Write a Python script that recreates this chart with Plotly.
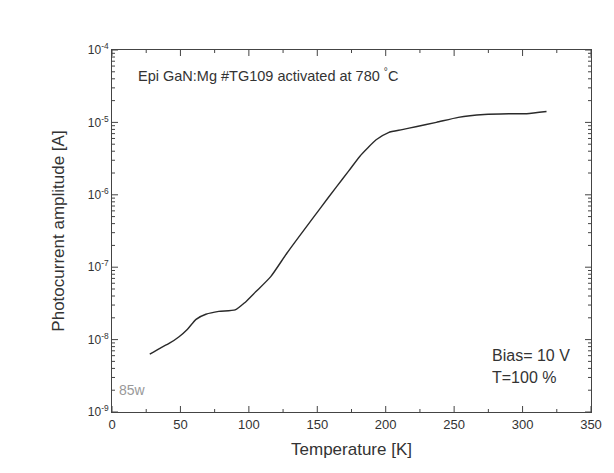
import plotly.graph_objects as go

temperature = [27.6, 35, 42, 49, 55, 61.4, 68.6, 78, 90, 97, 105, 116, 128, 140.5, 152, 164, 173, 181, 187, 193, 202, 212, 222, 237, 253, 272, 290, 303, 317.5]
log_current = [-8.20, -8.12, -8.05, -7.96, -7.86, -7.72, -7.65, -7.61, -7.59, -7.49, -7.34, -7.13, -6.80, -6.48, -6.19, -5.89, -5.67, -5.47, -5.35, -5.24, -5.14, -5.10, -5.06, -5.00, -4.93, -4.89, -4.88, -4.88, -4.85]
current = [10 ** v for v in log_current]

y_tickvals = [1e-9, 1e-8, 1e-7, 1e-6, 1e-5, 1e-4]
y_ticktext = ["10<sup>-9</sup>", "10<sup>-8</sup>", "10<sup>-7</sup>", "10<sup>-6</sup>", "10<sup>-5</sup>", "10<sup>-4</sup>"]
y_minor_tickvals = [m * 10 ** e for e in range(-9, -4) for m in range(2, 10)]
x_tickvals = [0, 50, 100, 150, 200, 250, 300, 350]
x_minor_tickvals = [25, 75, 125, 175, 225, 275, 325]

FONT = "Liberation Sans, Arial, sans-serif"
AX = "#444444"
TXT = "#333333"
X_RANGE = [0, 350]
Y_RANGE = [-9, -4]
MAJOR_LEN = 6
MINOR_LEN = 3

fig = go.Figure()
fig.add_trace(go.Scatter(x=temperature, y=current, mode="lines",
                         line=dict(color="#2a2a2a", width=1.4, shape="spline", smoothing=0.6),
                         showlegend=False))

fig.update_layout(
    width=614, height=473,
    margin=dict(l=112, r=16, t=50, b=61),
    paper_bgcolor="white", plot_bgcolor="white",
    font=dict(family=FONT, color=TXT, size=12),
    xaxis=dict(range=X_RANGE, tickmode="array", tickvals=x_tickvals, ticks="",
               showline=True, linecolor=AX, linewidth=1, mirror=True,
               showgrid=False, zeroline=False,
               tickfont=dict(size=13, color=TXT),
               title=dict(text="Temperature [K]", font=dict(size=17, color=TXT), standoff=12)),
    yaxis=dict(type="log", range=Y_RANGE, tickmode="array", tickvals=y_tickvals, ticktext=y_ticktext,
               ticks="", showline=True, linecolor=AX, linewidth=1, mirror=True,
               showgrid=False, zeroline=False,
               tickfont=dict(size=12, color=TXT),
               title=dict(text="Photocurrent amplitude [A]", font=dict(size=17, color=TXT), standoff=18)),
)

# inward tick marks on all four sides, placed by the axes' own scales
tick_line = dict(color=AX, width=1)
for vals, length in ((x_tickvals, MAJOR_LEN), (x_minor_tickvals, MINOR_LEN)):
    for v in vals:
        for anchor, sign in ((0, 1), (1, -1)):
            fig.add_shape(type="line", xref="x", yref="y domain", ysizemode="pixel",
                          yanchor=anchor, x0=v, x1=v, y0=0, y1=sign * length,
                          line=tick_line, layer="above")
for vals, length in ((y_tickvals, MAJOR_LEN), (y_minor_tickvals, MINOR_LEN)):
    for v in vals:
        for anchor, sign in ((0, 1), (1, -1)):
            fig.add_shape(type="line", xref="x domain", yref="y", xsizemode="pixel",
                          xanchor=anchor, y0=v, y1=v, x0=0, x1=sign * length,
                          line=tick_line, layer="above")

fig.add_annotation(x=0.05, y=0.93, xref="paper", yref="paper", xanchor="left", yanchor="middle",
                   text="Epi GaN:Mg #TG109 activated at 780 <sup>°</sup>C", showarrow=False,
                   font=dict(size=14.5, color=TXT, family=FONT))
fig.add_annotation(x=0.79, y=0.155, xref="paper", yref="paper", xanchor="left", yanchor="middle",
                   text="Bias= 10 V", showarrow=False, font=dict(size=16, color=TXT, family=FONT))
fig.add_annotation(x=0.79, y=0.095, xref="paper", yref="paper", xanchor="left", yanchor="middle",
                   text="T=100 %", showarrow=False, font=dict(size=16, color=TXT, family=FONT))
fig.add_annotation(x=0.01, y=0.06, xref="paper", yref="paper", xanchor="left", yanchor="middle",
                   text="85w", showarrow=False, font=dict(size=14, color="#999999", family=FONT))

fig.write_html("out.html")
